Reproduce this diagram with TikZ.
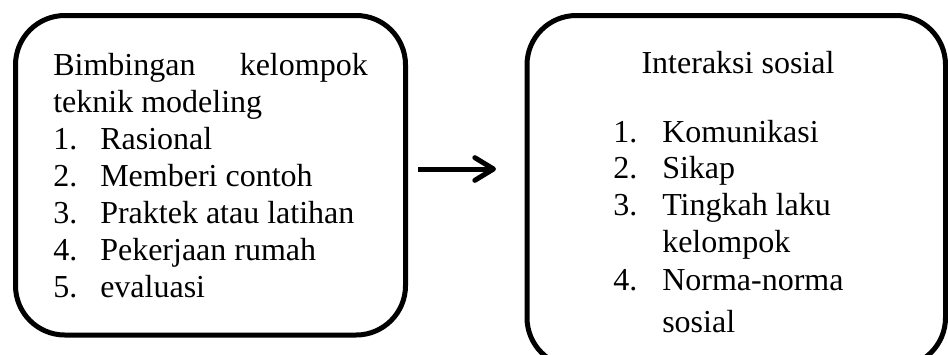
\documentclass[tikz,border=0pt]{standalone}
\usepackage{fontspec}
\setmainfont{Liberation Serif}
\usetikzlibrary{arrows.meta}
\tikzset{
  box/.style={draw=black, line width=3.75pt, rounded corners=37pt},
  txt/.style={anchor=base west, inner sep=0pt, font=\fontsize{24pt}{27.75pt}\selectfont},
  txte/.style={anchor=base east, inner sep=0pt, font=\fontsize{24pt}{27.75pt}\selectfont},
  txtc/.style={anchor=base, inner sep=0pt, font=\fontsize{24pt}{27.75pt}\selectfont},
  conn/.style={line width=3.75pt, -{Straight Barb[length=14pt,width=17pt,line cap=round,line join=round]}}
}
\begin{document}
\begin{tikzpicture}[x=0.75pt,y=-0.75pt]
\clip (0,0) rectangle (948,354);
% left box
\draw[box] (15.5,15.5) rectangle (405.5,335);
\node[txt] (l0a) at (53,75) {Bimbingan};
\node[txte] (l0b) at (368,75) {kelompok};
\node[txt] (l1) at (53,112) {teknik modeling};
\node[txt] (n1) at (53,149) {1.};
\node[txt] (i1) at (100,149) {Rasional};
\node[txt] (n2) at (53,186) {2.};
\node[txt] (i2) at (100,186) {Memberi contoh};
\node[txt] (n3) at (53,223) {3.};
\node[txt] (i3) at (100,223) {Praktek atau latihan};
\node[txt] (n4) at (53,260) {4.};
\node[txt] (i4) at (100,260) {Pekerjaan rumah};
\node[txt] (n5) at (53,297) {5.};
\node[txt] (i5) at (100,297) {evaluasi};
% arrow
\coordinate (a1) at (418,169);
\coordinate (a2) at (496,169);
\draw[conn] (a1) -- (a2);
% right box
\draw[box] (527,15.5) rectangle (945.5,367);
\node[txtc] (r0) at (738,73) {Interaksi sosial};
\node[txt] (m1) at (613,142) {1.};
\node[txt] (j1) at (662,142) {Komunikasi};
\node[txt] (m2) at (613,178) {2.};
\node[txt] (j2) at (662,178) {Sikap};
\node[txt] (m3) at (613,215) {3.};
\node[txt] (j3) at (662,215) {Tingkah laku};
\node[txt] (j3b) at (662,252) {kelompok};
\node[txt] (m4) at (613,290) {4.};
\node[txt] (j4) at (662,290) {Norma-norma};
\node[txt] (j4b) at (662,332) {sosial};
\end{tikzpicture}
\end{document}
